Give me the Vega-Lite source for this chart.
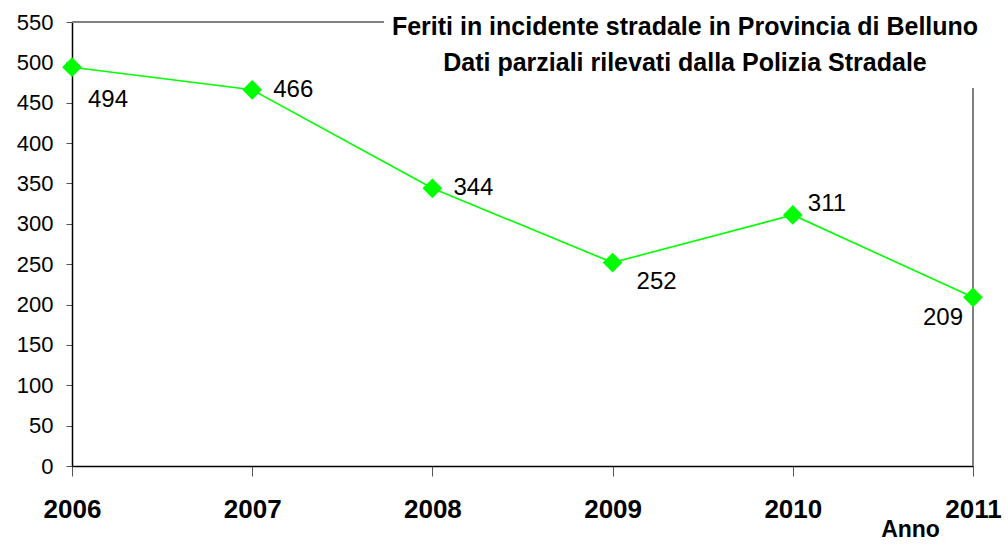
{
  "$schema": "https://vega.github.io/schema/vega-lite/v6.json",
  "width": 901,
  "height": 444,
  "autosize": {"type": "none"},
  "padding": {"left": 72, "top": 22, "right": 35, "bottom": 79},
  "background": "white",
  "config": {
    "view": {"stroke": null},
    "font": "Liberation Sans",
    "text": {"font": "Liberation Sans"}
  },
  "title": {
    "text": ["Feriti in incidente stradale in Provincia di Belluno", "Dati parziali rilevati dalla Polizia Stradale"],
    "font": "Liberation Sans",
    "fontSize": 25,
    "fontWeight": "bold",
    "color": "black",
    "anchor": "start",
    "align": "center",
    "frame": "group",
    "baseline": "top",
    "orient": "top",
    "offset": 0,
    "dx": 613,
    "dy": 65,
    "lineHeight": 36
  },
  "data": {
    "values": [
      {"anno": 2006, "feriti": 494},
      {"anno": 2007, "feriti": 466},
      {"anno": 2008, "feriti": 344},
      {"anno": 2009, "feriti": 252},
      {"anno": 2010, "feriti": 311},
      {"anno": 2011, "feriti": 209}
    ]
  },
  "encoding": {
    "x": {
      "field": "anno",
      "type": "quantitative",
      "scale": {"domain": [2006, 2011], "nice": false, "zero": false},
      "axis": {
        "values": [2006, 2007, 2008, 2009, 2010, 2011],
        "format": "d",
        "grid": false,
        "domainColor": "black",
        "domainWidth": 1.5,
        "tickColor": "#555555",
        "tickSize": 10,
        "labelFont": "Liberation Sans",
        "labelFontSize": 26,
        "labelFontWeight": "bold",
        "labelColor": "black",
        "labelPadding": 20,
        "labelFlush": false,
        "labelOverlap": false,
        "title": "Anno",
        "titleFont": "Liberation Sans",
        "titleFontSize": 23,
        "titleFontWeight": "bold",
        "titleColor": "black",
        "titleX": 838,
        "titleY": 63,
        "titleAlign": "center",
        "titleBaseline": "middle"
      }
    },
    "y": {
      "field": "feriti",
      "type": "quantitative",
      "scale": {"domain": [0, 550], "nice": false},
      "axis": {
        "values": [0, 50, 100, 150, 200, 250, 300, 350, 400, 450, 500, 550],
        "grid": false,
        "domainColor": "black",
        "domainWidth": 1.5,
        "tickColor": "#555555",
        "tickSize": 6,
        "labelFont": "Liberation Sans",
        "labelFontSize": 22,
        "labelColor": "black",
        "labelPadding": 13,
        "labelFlush": false,
        "labelOverlap": false,
        "title": null
      }
    }
  },
  "layer": [
    {
      "mark": {"type": "rule", "color": "#808080", "strokeWidth": 1.2},
      "encoding": {
        "x": {"datum": 2006},
        "x2": {"datum": 2007.73},
        "y": {"datum": 550}
      }
    },
    {
      "mark": {"type": "rule", "color": "#808080", "strokeWidth": 1.2},
      "encoding": {
        "x": {"datum": 2011},
        "y": {"datum": 0},
        "y2": {"datum": 468}
      }
    },
    {
      "mark": {"type": "line", "color": "#00FF00", "strokeWidth": 1.6}
    },
    {
      "mark": {"type": "point", "shape": "diamond", "filled": true, "color": "#00FF00", "size": 390, "opacity": 1}
    },
    {
      "transform": [{"filter": "datum.anno == 2006"}],
      "mark": {"type": "text", "align": "left", "baseline": "middle", "dx": 16, "dy": 33, "fontSize": 24, "color": "black"},
      "encoding": {"text": {"field": "feriti"}}
    },
    {
      "transform": [{"filter": "datum.anno == 2007 || datum.anno == 2008"}],
      "mark": {"type": "text", "align": "left", "baseline": "middle", "dx": 21, "dy": 0, "fontSize": 24, "color": "black"},
      "encoding": {"text": {"field": "feriti"}}
    },
    {
      "transform": [{"filter": "datum.anno == 2009"}],
      "mark": {"type": "text", "align": "left", "baseline": "middle", "dx": 24, "dy": 19, "fontSize": 24, "color": "black"},
      "encoding": {"text": {"field": "feriti"}}
    },
    {
      "transform": [{"filter": "datum.anno == 2010"}],
      "mark": {"type": "text", "align": "left", "baseline": "middle", "dx": 15, "dy": -11, "fontSize": 24, "color": "black"},
      "encoding": {"text": {"field": "feriti"}}
    },
    {
      "transform": [{"filter": "datum.anno == 2011"}],
      "mark": {"type": "text", "align": "right", "baseline": "middle", "dx": -10, "dy": 21, "fontSize": 24, "color": "black"},
      "encoding": {"text": {"field": "feriti"}}
    }
  ]
}
